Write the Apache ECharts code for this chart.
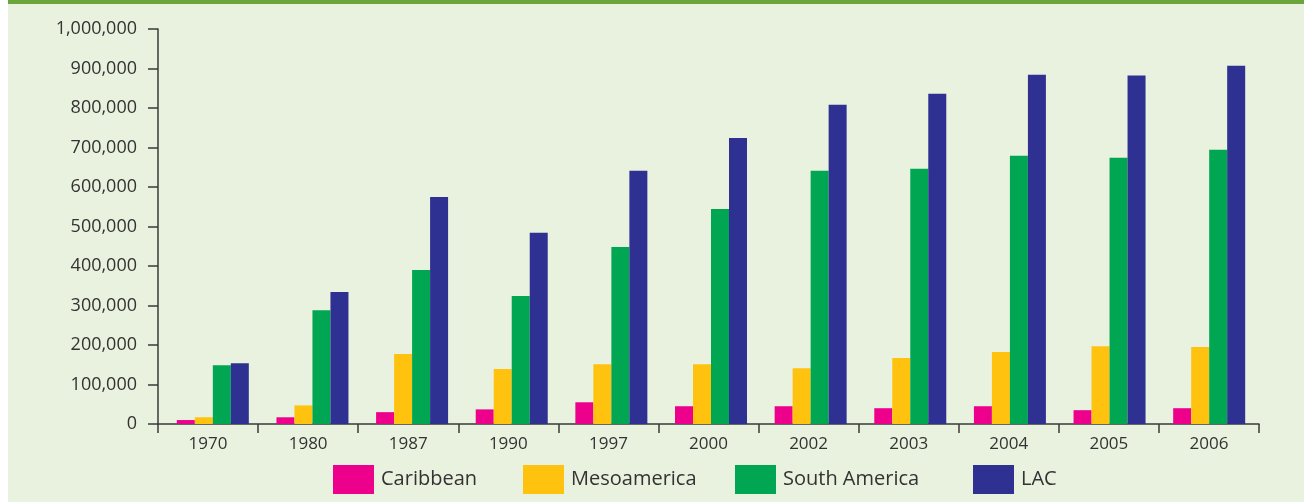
<!DOCTYPE html>
<html>
<head>
<meta charset="utf-8">
<script src="https://cdn.jsdelivr.net/npm/echarts@6/dist/echarts.min.js"></script>
<style>
html,body{margin:0;padding:0;background:#fff;}
#chart{width:1304px;height:502px;}
</style>
</head>
<body>
<div id="chart"></div>
<script>
const years = ['1970','1980','1987','1990','1997','2000','2002','2003','2004','2005','2006'];
const caribbean = [10000, 17000, 30000, 37000, 55000, 45000, 45000, 40000, 45000, 35000, 40000];
const mesoamerica = [17000, 47000, 177000, 139000, 151000, 151000, 141000, 167000, 182000, 197000, 195000];
const southAmerica = [149000, 288000, 390000, 324000, 448000, 544000, 641000, 646000, 679000, 674000, 694000];
const lac = [154000, 334000, 575000, 484000, 641000, 724000, 808000, 836000, 884000, 882000, 907000];
const seriesNames = ['Caribbean', 'Mesoamerica', 'South America', 'LAC'];
const yTicks = [0, 100000, 200000, 300000, 400000, 500000, 600000, 700000, 800000, 900000, 1000000];

const colors = ['#EC008C', '#FFC20E', '#00A651', '#2E3192'];
const FONT = 'Open Sans';
const TXT = '#333333';
const AX = '#3a3a3a';

const chart = echarts.init(document.getElementById('chart'), null, {renderer: 'canvas'});
const seriesData = [caribbean, mesoamerica, southAmerica, lac];
const legendLeft = [333, 523, 735, 973];

const option = {
  backgroundColor: '#E9F2DF',
  animation: false,
  textStyle: {fontFamily: FONT},
  graphic: [
    {type: 'rect', left: 0, top: 0, shape: {width: 8, height: 502}, style: {fill: '#ffffff'}},
    {type: 'rect', left: 8, top: 0, shape: {width: 1296, height: 4}, style: {fill: '#6BA43A'}}
  ],
  legend: seriesNames.map((n, i) => ({
    data: [n],
    left: legendLeft[i],
    top: 465,
    padding: 0,
    itemWidth: 41,
    itemHeight: 29,
    icon: 'rect',
    textStyle: {fontSize: 20, color: TXT, fontFamily: FONT, padding: [3, 0, 0, 2]}
  })),
  grid: [
    {left: 163, top: 29, width: 1096, height: 395},
    {left: 158, top: 29, width: 1101, height: 395}
  ],
  xAxis: [
    {type: 'category', gridIndex: 0, data: years, show: false},
    {type: 'category', gridIndex: 1, data: years,
      axisLine: {show: true, lineStyle: {color: AX, width: 1.5}},
      axisTick: {show: true, length: 9, lineStyle: {color: AX, width: 1.5}},
      axisLabel: {fontSize: 17, color: TXT, margin: 12, fontFamily: FONT}
    }
  ],
  yAxis: [
    {type: 'value', gridIndex: 0, min: 0, max: 1000000, interval: 100000, show: false},
    {type: 'value', gridIndex: 1, min: yTicks[0], max: yTicks[yTicks.length - 1], interval: yTicks[1] - yTicks[0],
      axisLine: {show: true, lineStyle: {color: AX, width: 1.5}},
      axisTick: {show: true, length: 10, lineStyle: {color: AX, width: 1.5}},
      splitLine: {show: false},
      axisLabel: {fontSize: 18, color: TXT, margin: 21, fontFamily: FONT,
        formatter: v => v.toLocaleString('en-US')}
    }
  ],
  series: seriesNames.map((n, i) => ({
    name: n,
    type: 'bar',
    xAxisIndex: 0,
    yAxisIndex: 0,
    data: seriesData[i],
    barWidth: 18,
    barGap: '0%',
    itemStyle: {color: colors[i]}
  }))
};
chart.setOption(option);
</script>
</body>
</html>
